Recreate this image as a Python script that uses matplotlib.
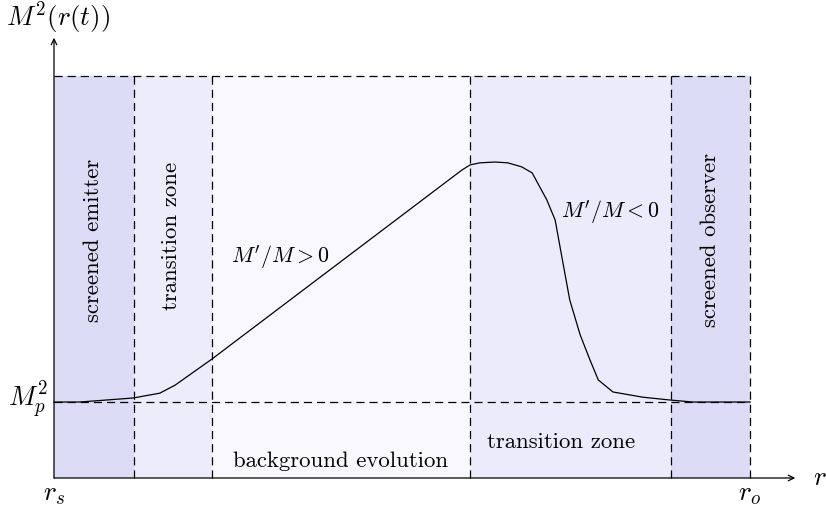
import matplotlib
matplotlib.use("Agg")
import matplotlib.pyplot as plt

plt.rcParams['mathtext.fontset'] = 'cm'
plt.rcParams['font.family'] = 'serif'
plt.rcParams['font.serif'] = ['cmr10', 'DejaVu Serif']
plt.rcParams['axes.unicode_minus'] = False

# zone boundaries in units of r (r_s = 0, r_o = 1)
zone_edges = [0.0, 0.115, 0.227, 0.598, 0.886, 1.0]
zone_colors = ['#dcdcf6', '#ececfb', '#f8f8fe', '#ebebfb', '#dcdcf6']
top_level = 1.0
mp2_level = 0.189

# curve M^2(r)
curve_r = [0.0, 0.037, 0.1135, 0.152, 0.174, 0.227, 0.586, 0.598, 0.612, 0.634,
           0.652, 0.672, 0.687, 0.708, 0.720, 0.730, 0.741, 0.756, 0.770, 0.782,
           0.803, 0.846, 0.885, 0.918, 1.0]
curve_m2 = [0.189, 0.189, 0.199, 0.211, 0.231, 0.296, 0.766, 0.779, 0.784, 0.786,
            0.784, 0.774, 0.759, 0.692, 0.642, 0.547, 0.443, 0.356, 0.294, 0.244,
            0.214, 0.201, 0.194, 0.189, 0.189]

fig = plt.figure(figsize=(8.26, 5.08), dpi=100)
ax = fig.add_axes([0, 0, 1, 1])
ax.set_xlim(-54 / 696, (826 - 54) / 696)
ax.set_ylim(-30 / 402, 478 / 402)
ax.axis('off')

lw = 0.9
dash = (0, (6.5, 4))

# shaded zones
for i in range(len(zone_colors)):
    ax.fill_between([zone_edges[i], zone_edges[i + 1]], 0, top_level,
                    color=zone_colors[i], lw=0, zorder=0)

# dashed borders
for e in zone_edges[1:]:
    ax.plot([e, e], [0, top_level], color='black', lw=lw, linestyle=dash, zorder=2)
ax.plot([zone_edges[0], zone_edges[-1]], [top_level, top_level], color='black',
        lw=lw, linestyle=dash, zorder=2)
ax.plot([zone_edges[0], zone_edges[-1]], [mp2_level, mp2_level], color='black',
        lw=lw, linestyle=dash, zorder=2)

# curve
ax.plot(curve_r, curve_m2, color='black', lw=lw, zorder=3)

# axes arrows
ax.annotate('', xy=(1.065, 0), xytext=(0, 0),
            arrowprops=dict(arrowstyle='->', lw=lw, color='black',
                            shrinkA=0, shrinkB=0, mutation_scale=10), zorder=4)
ax.annotate('', xy=(0, 1.095), xytext=(0, 0),
            arrowprops=dict(arrowstyle='->', lw=lw, color='black',
                            shrinkA=0, shrinkB=0, mutation_scale=10), zorder=4)

fs = 16.4
fm = 15.8
fl = 19.5
ax.text(0.056, 0.592, 'screened emitter', rotation=90, ha='center', va='center', fontsize=fs)
ax.text(0.168, 0.603, 'transition zone', rotation=90, ha='center', va='center', fontsize=fs)
ax.text(0.943, 0.592, 'screened observer', rotation=90, ha='center', va='center', fontsize=fs)
ax.text(0.325, 0.550, r"$M'/M>0$", ha='center', va='center', fontsize=fm)
ax.text(0.799, 0.662, r"$M'/M<0$", ha='center', va='center', fontsize=fm)
ax.text(0.412, 0.042, 'background evolution', ha='center', va='center', fontsize=fs)
ax.text(0.728, 0.090, 'transition zone', ha='center', va='center', fontsize=fs)
ax.text(0.006, 1.144, r"$M^2(r(t))$", ha='center', va='center', fontsize=fl)
ax.text(-0.037, 0.194, r"$M_p^2$", ha='center', va='center', fontsize=fl)
ax.text(0.0, -0.042, r"$r_s$", ha='center', va='center', fontsize=fl)
ax.text(1.0, -0.042, r"$r_o$", ha='center', va='center', fontsize=fl)
ax.text(1.1006, 0.0, r"$r$", ha='center', va='center', fontsize=fl)

fig.savefig('out.png', dpi=100)
